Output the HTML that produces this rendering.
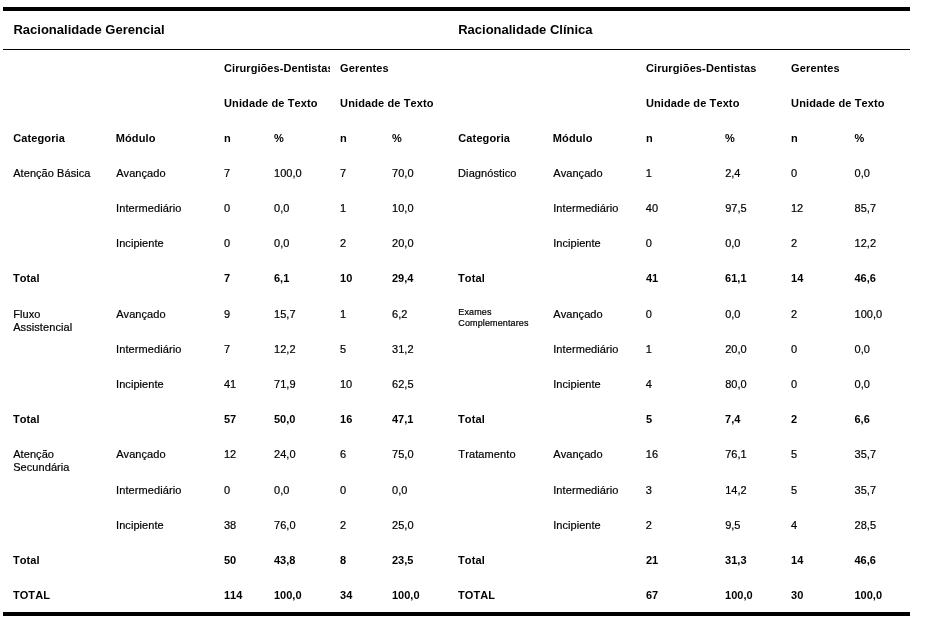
<!DOCTYPE html>
<html lang="pt"><head><meta charset="utf-8"><title>Tabela</title>
<style>
html,body{margin:0;padding:0;background:#fff;}
body{width:931px;height:619px;position:relative;overflow:hidden;font-family:"Liberation Sans",Arial,sans-serif;color:#000;}
.t{position:absolute;font-kerning:none;-webkit-text-stroke:0.2px #000;white-space:nowrap;font-size:11px;line-height:13px;}
.b{font-weight:bold;-webkit-text-stroke:0;}
.h{font-weight:bold;-webkit-text-stroke:0;font-size:13px;line-height:15px;}
.s{font-size:9px;line-height:11px;}
.r{position:absolute;background:#000;left:3px;width:907px;}
</style></head><body>
<div class="r" style="top:7px;height:4px"></div>
<div class="r" style="top:49px;height:1px"></div>
<div class="r" style="top:612px;height:4px"></div>
<div class="t h" style="left:13.4px;top:21.9px;letter-spacing:0.01px;">Racionalidade Gerencial</div>
<div class="t h" style="left:458.2px;top:21.9px;letter-spacing:0.0px;">Racionalidade Clínica</div>
<div class="t b" style="left:224.0px;top:61.7px;width:106px;overflow:hidden;letter-spacing:0.07px;">Cirurgiões-Dentistas</div>
<div class="t b" style="left:340.1px;top:61.7px;letter-spacing:0.12px;">Gerentes</div>
<div class="t b" style="left:224.0px;top:96.7px;letter-spacing:0.12px;">Unidade de Texto</div>
<div class="t b" style="left:340.1px;top:96.7px;letter-spacing:0.12px;">Unidade de Texto</div>
<div class="t b" style="left:13.2px;top:131.7px;letter-spacing:0.12px;">Categoria</div>
<div class="t b" style="left:115.7px;top:131.7px;letter-spacing:0.12px;">Módulo</div>
<div class="t b" style="left:224.0px;top:131.7px;letter-spacing:0.12px;">n</div>
<div class="t b" style="left:274.0px;top:131.7px;">%</div>
<div class="t b" style="left:340.1px;top:131.7px;letter-spacing:0.12px;">n</div>
<div class="t b" style="left:392.0px;top:131.7px;">%</div>
<div class="t b" style="left:645.9px;top:61.7px;letter-spacing:0.12px;">Cirurgiões-Dentistas</div>
<div class="t b" style="left:791.1px;top:61.7px;letter-spacing:0.12px;">Gerentes</div>
<div class="t b" style="left:645.9px;top:96.7px;letter-spacing:0.12px;">Unidade de Texto</div>
<div class="t b" style="left:791.1px;top:96.7px;letter-spacing:0.12px;">Unidade de Texto</div>
<div class="t b" style="left:458.3px;top:131.7px;letter-spacing:0.12px;">Categoria</div>
<div class="t b" style="left:552.8px;top:131.7px;letter-spacing:0.12px;">Módulo</div>
<div class="t b" style="left:645.9px;top:131.7px;letter-spacing:0.12px;">n</div>
<div class="t b" style="left:725.1px;top:131.7px;">%</div>
<div class="t b" style="left:791.1px;top:131.7px;letter-spacing:0.12px;">n</div>
<div class="t b" style="left:854.5px;top:131.7px;">%</div>
<div class="t " style="left:13.2px;top:166.7px;letter-spacing:0.06px;">Atenção Básica</div>
<div class="t " style="left:116.2px;top:166.7px;letter-spacing:0.06px;">Avançado</div>
<div class="t " style="left:223.9px;top:166.7px;">7</div>
<div class="t " style="left:274.1px;top:166.7px;">100,0</div>
<div class="t " style="left:340.0px;top:166.7px;">7</div>
<div class="t " style="left:392.1px;top:166.7px;">70,0</div>
<div class="t " style="left:116.1px;top:201.7px;letter-spacing:0.09px;">Intermediário</div>
<div class="t " style="left:223.9px;top:201.7px;">0</div>
<div class="t " style="left:274.1px;top:201.7px;">0,0</div>
<div class="t " style="left:340.0px;top:201.7px;">1</div>
<div class="t " style="left:392.1px;top:201.7px;">10,0</div>
<div class="t " style="left:116.1px;top:236.7px;letter-spacing:0.05px;">Incipiente</div>
<div class="t " style="left:223.9px;top:236.7px;">0</div>
<div class="t " style="left:274.1px;top:236.7px;">0,0</div>
<div class="t " style="left:340.0px;top:236.7px;">2</div>
<div class="t " style="left:392.1px;top:236.7px;">20,0</div>
<div class="t b" style="left:12.9px;top:271.7px;letter-spacing:0.12px;">Total</div>
<div class="t b" style="left:224.0px;top:271.7px;">7</div>
<div class="t b" style="left:274.0px;top:271.7px;">6,1</div>
<div class="t b" style="left:340.1px;top:271.7px;">10</div>
<div class="t b" style="left:392.0px;top:271.7px;">29,4</div>
<div class="t " style="left:13.2px;top:307.7px;letter-spacing:0.08px;">Fluxo<br>Assistencial</div>
<div class="t " style="left:116.2px;top:307.7px;letter-spacing:0.06px;">Avançado</div>
<div class="t " style="left:223.9px;top:307.7px;">9</div>
<div class="t " style="left:274.1px;top:307.7px;">15,7</div>
<div class="t " style="left:340.0px;top:307.7px;">1</div>
<div class="t " style="left:392.1px;top:307.7px;">6,2</div>
<div class="t " style="left:116.1px;top:342.7px;letter-spacing:0.09px;">Intermediário</div>
<div class="t " style="left:223.9px;top:342.7px;">7</div>
<div class="t " style="left:274.1px;top:342.7px;">12,2</div>
<div class="t " style="left:340.0px;top:342.7px;">5</div>
<div class="t " style="left:392.1px;top:342.7px;">31,2</div>
<div class="t " style="left:116.1px;top:377.7px;letter-spacing:0.05px;">Incipiente</div>
<div class="t " style="left:223.9px;top:377.7px;">41</div>
<div class="t " style="left:274.1px;top:377.7px;">71,9</div>
<div class="t " style="left:340.0px;top:377.7px;">10</div>
<div class="t " style="left:392.1px;top:377.7px;">62,5</div>
<div class="t b" style="left:12.9px;top:412.7px;letter-spacing:0.12px;">Total</div>
<div class="t b" style="left:224.0px;top:412.7px;">57</div>
<div class="t b" style="left:274.0px;top:412.7px;">50,0</div>
<div class="t b" style="left:340.1px;top:412.7px;">16</div>
<div class="t b" style="left:392.0px;top:412.7px;">47,1</div>
<div class="t " style="left:13.2px;top:447.7px;letter-spacing:0.07px;">Atenção<br>Secundária</div>
<div class="t " style="left:116.2px;top:447.7px;letter-spacing:0.06px;">Avançado</div>
<div class="t " style="left:223.9px;top:447.7px;">12</div>
<div class="t " style="left:274.1px;top:447.7px;">24,0</div>
<div class="t " style="left:340.0px;top:447.7px;">6</div>
<div class="t " style="left:392.1px;top:447.7px;">75,0</div>
<div class="t " style="left:116.1px;top:483.7px;letter-spacing:0.09px;">Intermediário</div>
<div class="t " style="left:223.9px;top:483.7px;">0</div>
<div class="t " style="left:274.1px;top:483.7px;">0,0</div>
<div class="t " style="left:340.0px;top:483.7px;">0</div>
<div class="t " style="left:392.1px;top:483.7px;">0,0</div>
<div class="t " style="left:116.1px;top:518.7px;letter-spacing:0.05px;">Incipiente</div>
<div class="t " style="left:223.9px;top:518.7px;">38</div>
<div class="t " style="left:274.1px;top:518.7px;">76,0</div>
<div class="t " style="left:340.0px;top:518.7px;">2</div>
<div class="t " style="left:392.1px;top:518.7px;">25,0</div>
<div class="t b" style="left:12.9px;top:553.7px;letter-spacing:0.12px;">Total</div>
<div class="t b" style="left:224.0px;top:553.7px;">50</div>
<div class="t b" style="left:274.0px;top:553.7px;">43,8</div>
<div class="t b" style="left:340.1px;top:553.7px;">8</div>
<div class="t b" style="left:392.0px;top:553.7px;">23,5</div>
<div class="t b" style="left:12.9px;top:588.7px;letter-spacing:0.1px;">TOTAL</div>
<div class="t b" style="left:224.0px;top:588.7px;">114</div>
<div class="t b" style="left:274.0px;top:588.7px;">100,0</div>
<div class="t b" style="left:340.1px;top:588.7px;">34</div>
<div class="t b" style="left:392.0px;top:588.7px;">100,0</div>
<div class="t " style="left:458.1px;top:166.7px;letter-spacing:0.08px;">Diagnóstico</div>
<div class="t " style="left:553.3px;top:166.7px;letter-spacing:0.06px;">Avançado</div>
<div class="t " style="left:645.8px;top:166.7px;">1</div>
<div class="t " style="left:725.2px;top:166.7px;">2,4</div>
<div class="t " style="left:791.0px;top:166.7px;">0</div>
<div class="t " style="left:854.6px;top:166.7px;">0,0</div>
<div class="t " style="left:553.2px;top:201.7px;letter-spacing:0.09px;">Intermediário</div>
<div class="t " style="left:645.8px;top:201.7px;">40</div>
<div class="t " style="left:725.2px;top:201.7px;">97,5</div>
<div class="t " style="left:791.0px;top:201.7px;">12</div>
<div class="t " style="left:854.6px;top:201.7px;">85,7</div>
<div class="t " style="left:553.2px;top:236.7px;letter-spacing:0.05px;">Incipiente</div>
<div class="t " style="left:645.8px;top:236.7px;">0</div>
<div class="t " style="left:725.2px;top:236.7px;">0,0</div>
<div class="t " style="left:791.0px;top:236.7px;">2</div>
<div class="t " style="left:854.6px;top:236.7px;">12,2</div>
<div class="t b" style="left:458.0px;top:271.7px;letter-spacing:0.12px;">Total</div>
<div class="t b" style="left:645.9px;top:271.7px;">41</div>
<div class="t b" style="left:725.1px;top:271.7px;">61,1</div>
<div class="t b" style="left:791.1px;top:271.7px;">14</div>
<div class="t b" style="left:854.5px;top:271.7px;">46,6</div>
<div class="t s" style="left:458.3px;top:307.2px;letter-spacing:0.12px;">Exames<br>Complementares</div>
<div class="t " style="left:553.3px;top:307.7px;letter-spacing:0.06px;">Avançado</div>
<div class="t " style="left:645.8px;top:307.7px;">0</div>
<div class="t " style="left:725.2px;top:307.7px;">0,0</div>
<div class="t " style="left:791.0px;top:307.7px;">2</div>
<div class="t " style="left:854.6px;top:307.7px;">100,0</div>
<div class="t " style="left:553.2px;top:342.7px;letter-spacing:0.09px;">Intermediário</div>
<div class="t " style="left:645.8px;top:342.7px;">1</div>
<div class="t " style="left:725.2px;top:342.7px;">20,0</div>
<div class="t " style="left:791.0px;top:342.7px;">0</div>
<div class="t " style="left:854.6px;top:342.7px;">0,0</div>
<div class="t " style="left:553.2px;top:377.7px;letter-spacing:0.05px;">Incipiente</div>
<div class="t " style="left:645.8px;top:377.7px;">4</div>
<div class="t " style="left:725.2px;top:377.7px;">80,0</div>
<div class="t " style="left:791.0px;top:377.7px;">0</div>
<div class="t " style="left:854.6px;top:377.7px;">0,0</div>
<div class="t b" style="left:458.0px;top:412.7px;letter-spacing:0.12px;">Total</div>
<div class="t b" style="left:645.9px;top:412.7px;">5</div>
<div class="t b" style="left:725.1px;top:412.7px;">7,4</div>
<div class="t b" style="left:791.1px;top:412.7px;">2</div>
<div class="t b" style="left:854.5px;top:412.7px;">6,6</div>
<div class="t " style="left:458.3px;top:447.7px;letter-spacing:0.12px;">Tratamento</div>
<div class="t " style="left:553.3px;top:447.7px;letter-spacing:0.06px;">Avançado</div>
<div class="t " style="left:645.8px;top:447.7px;">16</div>
<div class="t " style="left:725.2px;top:447.7px;">76,1</div>
<div class="t " style="left:791.0px;top:447.7px;">5</div>
<div class="t " style="left:854.6px;top:447.7px;">35,7</div>
<div class="t " style="left:553.2px;top:483.7px;letter-spacing:0.09px;">Intermediário</div>
<div class="t " style="left:645.8px;top:483.7px;">3</div>
<div class="t " style="left:725.2px;top:483.7px;">14,2</div>
<div class="t " style="left:791.0px;top:483.7px;">5</div>
<div class="t " style="left:854.6px;top:483.7px;">35,7</div>
<div class="t " style="left:553.2px;top:518.7px;letter-spacing:0.05px;">Incipiente</div>
<div class="t " style="left:645.8px;top:518.7px;">2</div>
<div class="t " style="left:725.2px;top:518.7px;">9,5</div>
<div class="t " style="left:791.0px;top:518.7px;">4</div>
<div class="t " style="left:854.6px;top:518.7px;">28,5</div>
<div class="t b" style="left:458.0px;top:553.7px;letter-spacing:0.12px;">Total</div>
<div class="t b" style="left:645.9px;top:553.7px;">21</div>
<div class="t b" style="left:725.1px;top:553.7px;">31,3</div>
<div class="t b" style="left:791.1px;top:553.7px;">14</div>
<div class="t b" style="left:854.5px;top:553.7px;">46,6</div>
<div class="t b" style="left:458.0px;top:588.7px;letter-spacing:0.1px;">TOTAL</div>
<div class="t b" style="left:645.9px;top:588.7px;">67</div>
<div class="t b" style="left:725.1px;top:588.7px;">100,0</div>
<div class="t b" style="left:791.1px;top:588.7px;">30</div>
<div class="t b" style="left:854.5px;top:588.7px;">100,0</div>
</body></html>
